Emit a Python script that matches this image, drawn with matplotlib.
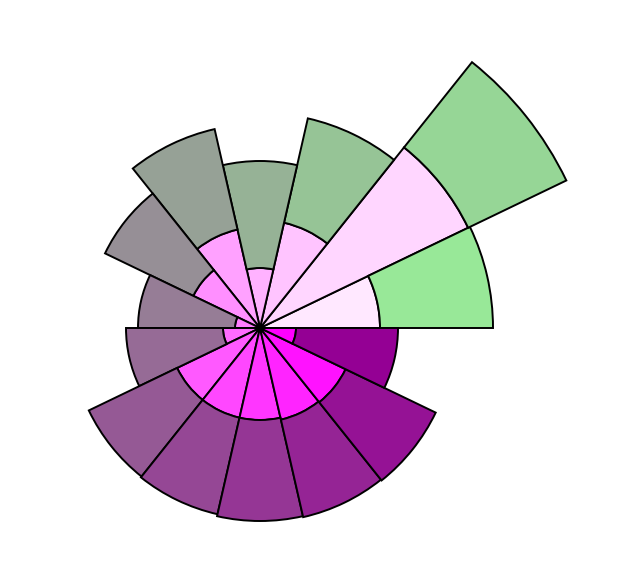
import numpy as np
import matplotlib
matplotlib.use("Agg")
import matplotlib.pyplot as plt

# ── Data: 14 directional sectors, two stacked rings ──────────────────────────
sectors = list(range(14))
inner_vals = [120, 231, 108, 60, 101, 74, 25, 37, 92, 92, 92, 94, 95, 36]
outer_tops = [233, 340, 215, 167, 204, 172, 122, 134, 190, 191, 193, 194, 195, 138]
outer_vals = [t - b for t, b in zip(outer_tops, inner_vals)]

inner_colors = [
    "#FFE8FF", "#FFD6FF", "#FFC4FF", "#FFB2FF", "#FFA1FF", "#FF8FFF", "#FF7DFF",
    "#FF6BFF", "#FF59FF", "#FF47FF", "#FF36FF", "#FF24FF", "#FF12FF", "#FF00FF",
]
outer_colors = [
    "#98E898", "#96D696", "#96C496", "#96B296", "#96A196", "#968F96", "#967D96",
    "#966B96", "#955995", "#954795", "#953695", "#952495", "#951295", "#940094",
]

# ── Figure ────────────────────────────────────────────────────────────────────
W, H = 620, 582
cx, cy = 260, 582 - 328
rmax = 350
fig = plt.figure(figsize=(W / 100, H / 100), dpi=100)
ax = fig.add_axes([(cx - rmax) / W, (cy - rmax) / H, 2 * rmax / W, 2 * rmax / H],
                  projection="polar")

n = len(sectors)
width = 2 * np.pi / n
theta = (np.array(sectors) + 0.5) * width

ax.bar(theta, inner_vals, width=width, bottom=0, color=inner_colors,
       edgecolor="black", linewidth=1.4)
ax.bar(theta, outer_vals, width=width, bottom=inner_vals, color=outer_colors,
       edgecolor="black", linewidth=1.4)

ax.set_ylim(0, rmax)
ax.set_axis_off()

fig.savefig("out.png", dpi=100)
